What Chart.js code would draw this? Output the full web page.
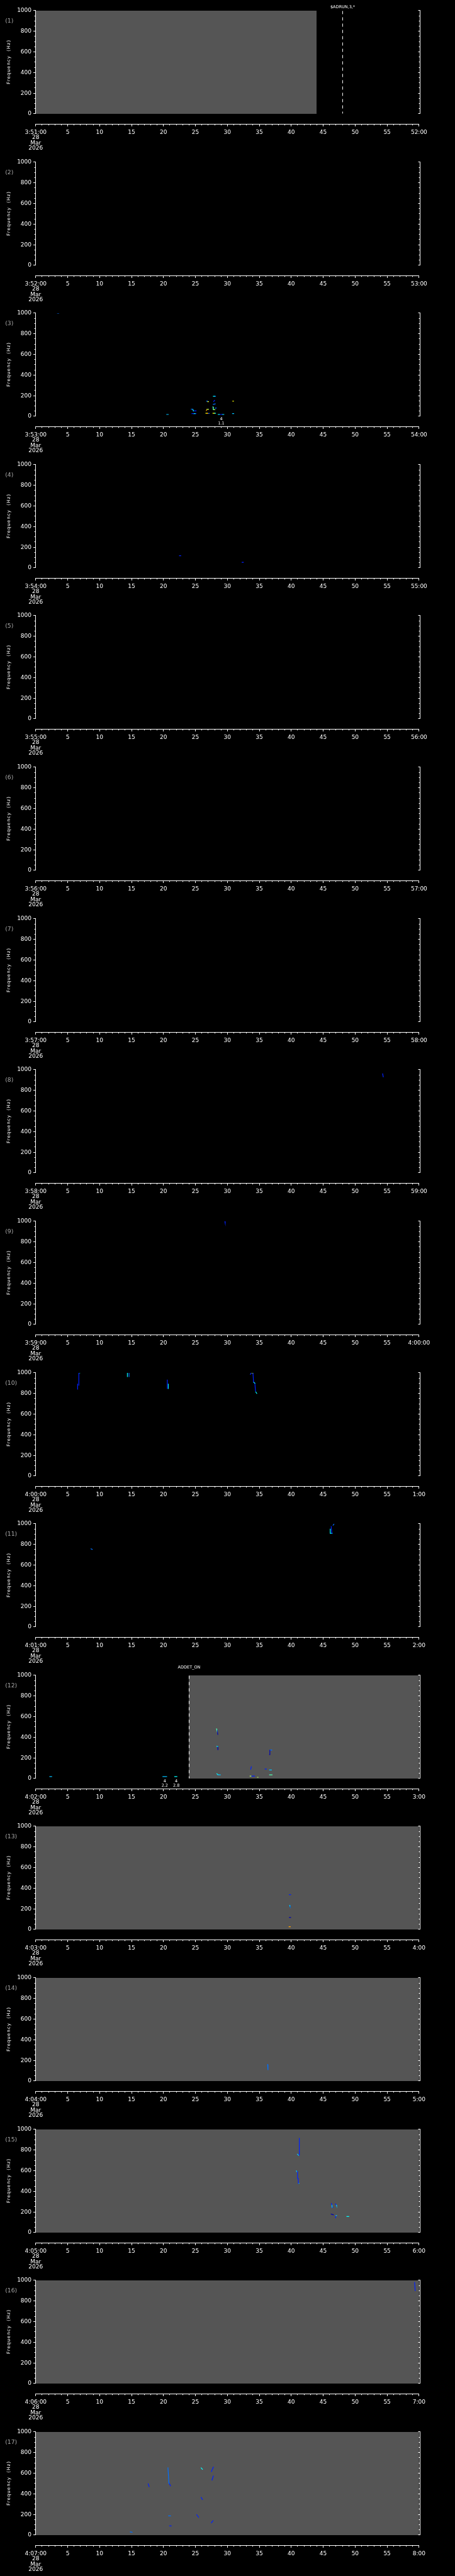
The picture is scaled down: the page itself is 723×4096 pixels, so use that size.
<!DOCTYPE html>
<html><head><meta charset="utf-8">
<script src="https://cdn.jsdelivr.net/npm/chart.js@4.4.0/dist/chart.umd.min.js"></script>
<style>
html,body{margin:0;padding:0;background:#000;}
#wrap{position:relative;width:723px;height:4096px;overflow:hidden;}
#wrap canvas{position:absolute;left:0;}
</style></head>
<body><div id="wrap"></div>
<script>
// ---------------- DATA ----------------
const panelNames = ['(1)','(2)','(3)','(4)','(5)','(6)','(7)','(8)','(9)','(10)','(11)','(12)','(13)','(14)','(15)','(16)','(17)'];
const startLabels = ['3:51:00','3:52:00','3:53:00','3:54:00','3:55:00','3:56:00','3:57:00','3:58:00','3:59:00','4:00:00','4:01:00','4:02:00','4:03:00','4:04:00','4:05:00','4:06:00','4:07:00'];
const endLabels = ['52:00','53:00','54:00','55:00','56:00','57:00','58:00','59:00','4:00:00','1:00','2:00','3:00','4:00','5:00','6:00','7:00','8:00'];
const dateLines = ['28','Mar','2026'];
const xTickValues = [0,5,10,15,20,25,30,35,40,45,50,55,60];
const xMinorStep = 1;
const yTickValues = [0,200,400,600,800,1000];
const yMinorStep = 50;
const freqTitle = 'Frequency  (Hz)';

// gray "no data" ranges (seconds)
const grayPanel = [1, 12, 13, 14, 15, 16, 17];
const grayStart = [0, 24, 0, 0, 0, 0, 0];
const grayEnd   = [44, 60, 60, 60, 60, 60, 60];

// event markers
const eventPanel = [1, 12];
const eventTime  = [48, 24];
const eventText  = ['$ADRUN,3,*', 'ADDET_ON'];

// small annotations below plot
const annPanel  = [3, 12, 12];
const annTime   = [29.04, 20.2, 22.0];
const annTop    = ['4', '4', '4'];
const annBottom = ['1.1', '2.2', '2.8'];

// spectrogram marks: [t0 (s), f0 (Hz), t1 (s), f1 (Hz), intensity level 1..10]
const marksP3 = [
 [3.4,1000,3.6,1000,3],[20.5,18,20.75,18,4],
 [24.35,69,24.55,69,3],[24.6,67,24.68,52,5],[24.7,52,25.1,52,2],
 [24.45,26,24.7,26,2],[24.7,26,24.95,26,5],[24.95,26,25.1,26,2],
 [26.63,29,26.86,29,8],[26.86,28,26.95,28,10],[26.95,28,27.15,28,3],
 [26.7,55,26.8,65,9],[26.8,68,27.05,68,7],
 [26.75,147,26.9,147,3],[26.9,142,27.05,142,8],
 [27.74,92,27.8,66,6],[27.8,64,28.05,64,7],[28.1,79,28.25,81,3],
 [27.8,116,28.1,120,3],[27.85,144,28.0,155,2],
 [27.8,194,28.0,194,5],[28.0,194,28.15,194,3],
 [27.74,30,27.95,30,8],[27.95,30,28.15,30,5],
 [28.55,18,28.75,18,5],[28.75,18,29.2,18,2],[29.2,18,29.45,18,5],
 [30.8,26,31.0,26,4],[30.85,147,30.95,147,8]
];
const marksP4 = [[22.5,118,22.7,118,2],[32.3,54,32.5,54,2]];
const marksP8 = [[54.3,960,54.4,930,2]];
const marksP9 = [[29.6,1000,29.65,985,2]];
const marksP10 = [
 [6.75,1000,6.75,880,2],[6.8,1000,6.9,1000,5],[6.56,891,6.56,842,2],
 [14.35,1000,14.35,963,5],[14.6,1000,14.6,963,3],
 [20.6,931,20.6,848,2],[20.75,890,20.75,848,5],
 [33.6,985,33.7,1000,2],[33.7,1000,34.0,1000,7],[34.0,1000,34.1,910,2],
 [34.1,910,34.3,900,5],[34.3,900,34.4,824,2],[34.45,815,34.6,800,5]
];
const marksP11 = [
 [8.65,757,8.85,752,3],[46.25,974,46.35,907,2],[46.1,948,46.1,907,5],
 [46.2,907,46.4,907,5],[46.55,986,46.7,1000,3]
];
const marksP12 = [
 [2.2,19,2.5,19,4],[19.9,19,20.5,19,4],[21.75,19,22.1,19,5],
 [28.3,482,28.35,470,6],[28.4,470,28.5,427,1],
 [28.35,312,28.5,310,5],[28.5,310,28.52,279,1],
 [28.35,46,28.5,40,5],[28.5,36,28.9,36,4],
 [36.6,232,36.65,275,1],[36.65,276,36.95,276,3],
 [33.65,89,33.75,115,2],[35.9,92,36.1,92,2],[36.6,83,36.9,83,4],
 [36.6,36,37.0,36,6],[33.55,23,33.7,23,7],[33.7,23,34.25,23,2],
 [34.7,12,34.8,12,7]
];
const marksP13 = [
 [39.7,337,39.9,337,2],[39.75,234,39.8,225,4],[39.8,225,39.85,215,1],
 [39.7,116,39.9,116,1],[39.65,27,39.85,27,9]
];
const marksP14 = [[36.3,160,36.35,110,3]];
const marksP15 = [
 [41.26,914,41.26,752,2],[40.95,760,41.15,748,4],
 [40.8,599,40.85,590,4],[40.99,590,40.99,523,2],[41.1,523,41.1,477,2],[41.15,477,41.2,477,4],
 [46.3,282,46.32,268,2],[46.35,268,46.38,244,4],[46.4,244,46.5,244,2],
 [46.9,278,47.0,270,2],[47.05,268,47.1,258,4],
 [46.25,179,46.6,172,1],[47.0,165,47.1,165,4],[46.95,158,46.95,143,2],
 [48.7,156,49.0,156,5]
];
const marksP16 = [[59.3,980,59.4,900,2]];
const marksP17 = [
 [14.8,31,15.1,28,3],[17.6,497,17.75,470,2],
 [20.7,652,20.85,501,3],[20.85,508,21.1,477,2],
 [20.8,186,21.1,186,3],[20.95,89,21.2,89,2],
 [25.2,198,25.5,172,2],[25.9,652,26.1,637,5],[25.9,365,26.1,344,2],
 [27.5,616,27.8,659,2],[27.6,533,27.8,573,2],[27.5,120,27.75,140,2]
];
const panelMarks = [[],[],marksP3,marksP4,[],[],[],marksP8,marksP9,marksP10,marksP11,marksP12,marksP13,marksP14,marksP15,marksP16,marksP17];

// ---------------- STYLE / LAYOUT ----------------
const levelColors = ['#000000','#0000b4','#0020ff','#0070ff','#00c0ff','#00ffff','#50ffb0','#b0ff50','#ffff00','#ffa000','#ff3000'];
const S = 0.705;
const W = 723, H = 242;
const PITCH = 5802 / 17 * S;
const L = 80.5 * S, R = 944.5 * S;
const TOPY = 24 * S, ZEROY = 256.7 * S, AXY = 280.7 * S;
const yMinVal = -1000 * (AXY - ZEROY) / (ZEROY - TOPY);
const FONT = 'DejaVu Sans';
const tickFont = 9.0;
const snap = (v) => Math.round(v - 0.5) + 0.5;

function makePlugin(pi) {
  const pnum = pi + 1;
  return {
    id: 'idl' + pnum,
    beforeDatasetsDraw(chart) {
      const {ctx, scales: {x, y}} = chart;
      ctx.save();
      ctx.fillStyle = '#555555';
      for (let k = 0; k < grayPanel.length; k++) {
        if (grayPanel[k] !== pnum) continue;
        const x0 = Math.round(x.getPixelForValue(grayStart[k])), x1 = Math.round(x.getPixelForValue(grayEnd[k]));
        const y0 = Math.round(y.getPixelForValue(1000)), y1 = Math.round(y.getPixelForValue(0));
        ctx.fillRect(x0, y0, x1 - x0, y1 - y0);
      }
      ctx.restore();
    },
    afterDraw(chart) {
      const {ctx, scales: {x, y}} = chart;
      ctx.save();
      ctx.strokeStyle = '#ffffff';
      ctx.fillStyle = '#ffffff';
      ctx.lineWidth = 1;
      const yT = snap(y.getPixelForValue(1000)), yB = snap(y.getPixelForValue(0));
      const xl = snap(x.getPixelForValue(0)), xr = snap(x.getPixelForValue(60) + 1.4);
      ctx.beginPath();
      ctx.moveTo(xl, yT - 0.5); ctx.lineTo(xl, yB + 0.5);
      ctx.moveTo(xr, yT - 0.5); ctx.lineTo(xr, yB + 0.5);
      for (let v = 0; v <= 1000; v += yMinorStep) {
        const py = snap(y.getPixelForValue(v));
        const major = yTickValues.includes(v);
        ctx.moveTo(xl, py); ctx.lineTo(xl - (major ? 3.5 : 2), py);
        ctx.moveTo(xr, py); ctx.lineTo(xr - (major ? 3.0 : 2.0), py);
      }
      const ax = snap(chart.chartArea.bottom);
      ctx.moveTo(xl - 0.5, ax); ctx.lineTo(snap(x.getPixelForValue(60)) + 0.5, ax);
      for (let v = 0; v <= 60; v += xMinorStep) {
        const px = snap(x.getPixelForValue(v));
        const major = xTickValues.includes(v);
        ctx.moveTo(px, ax); ctx.lineTo(px, ax + (major ? 3.5 : 1.8));
      }
      ctx.stroke();

      for (let k = 0; k < eventPanel.length; k++) {
        if (eventPanel[k] !== pnum) continue;
        const px = snap(x.getPixelForValue(eventTime[k]));
        ctx.save();
        ctx.setLineDash([5, 5]);
        ctx.beginPath();
        ctx.moveTo(px, yT + 1); ctx.lineTo(px, yB);
        ctx.stroke();
        ctx.restore();
        ctx.font = '6.5px "' + FONT + '"';
        ctx.textAlign = 'center'; ctx.textBaseline = 'middle';
        const ly = (pnum === 1 ? 15.7 : 6.7) * S;
        ctx.fillText(eventText[k], px, ly);
      }
      ctx.font = '6.5px "' + FONT + '"';
      ctx.textAlign = 'center'; ctx.textBaseline = 'middle';
      for (let k = 0; k < annPanel.length; k++) {
        if (annPanel[k] !== pnum) continue;
        const px = x.getPixelForValue(annTime[k]);
        ctx.fillText(annTop[k], px, 263 * S);
        ctx.fillText(annBottom[k], px, 272.3 * S);
      }
      ctx.fillStyle = '#a8a8a8';
      ctx.font = '9.2px "' + FONT + '"';
      ctx.textAlign = 'left'; ctx.textBaseline = 'middle';
      ctx.fillText(panelNames[pi], 8.2, 47.3 * S);
      ctx.fillStyle = '#ffffff';
      ctx.translate(20 * S, (yT + yB) / 2);
      ctx.rotate(-Math.PI / 2);
      ctx.font = '7.3px "' + FONT + '"';
      try { ctx.letterSpacing = '0.9px'; } catch (e) {}
      ctx.textAlign = 'center'; ctx.textBaseline = 'middle';
      ctx.fillText(freqTitle, 0, 0);
      ctx.restore();
    }
  };
}

const wrap = document.getElementById('wrap');
for (let pi = 0; pi < 17; pi++) {
  const cv = document.createElement('canvas');
  cv.width = W; cv.height = H;
  cv.style.width = W + 'px'; cv.style.height = H + 'px';
  cv.style.top = Math.round(pi * PITCH) + 'px';
  wrap.appendChild(cv);
  const datasets = panelMarks[pi].map(m => ({
    data: [{x: m[0], y: m[1]}, {x: m[2], y: m[3]}],
    showLine: true,
    borderColor: levelColors[m[4]],
    backgroundColor: levelColors[m[4]],
    borderWidth: 1.2,
    borderCapStyle: 'square',
    pointRadius: 0,
    tension: 0
  }));
  new Chart(cv, {
    type: 'scatter',
    data: {datasets},
    plugins: [makePlugin(pi)],
    options: {
      responsive: false, animation: false, devicePixelRatio: 1, events: [],
      layout: {padding: {top: TOPY, right: W - R, left: 0, bottom: 0}},
      plugins: {legend: {display: false}, tooltip: {enabled: false}},
      scales: {
        x: {
          type: 'linear', min: 0, max: 60, position: 'bottom',
          grid: {display: false, drawTicks: false}, border: {display: false},
          afterBuildTicks: (s) => { s.ticks = xTickValues.map(v => ({value: v})); },
          afterFit: (s) => { s.height = H - AXY; },
          ticks: {
            autoSkip: false, maxRotation: 0, minRotation: 0, padding: 8.2, color: '#ffffff',
            font: {family: FONT, size: tickFont, lineHeight: 0.94},
            callback: (v) => v === 0 ? [startLabels[pi]].concat(dateLines) : (v === 60 ? endLabels[pi] : String(v))
          }
        },
        y: {
          type: 'linear', min: yMinVal, max: 1000, position: 'left',
          grid: {display: false, drawTicks: false}, border: {display: false},
          afterBuildTicks: (s) => { s.ticks = yTickValues.map(v => ({value: v})); },
          afterFit: (s) => { s.width = L; },
          ticks: {padding: 6.7, color: '#ffffff', font: {family: FONT, size: tickFont}, callback: (v) => String(v)}
        }
      }
    }
  });
}
</script>
</body></html>
